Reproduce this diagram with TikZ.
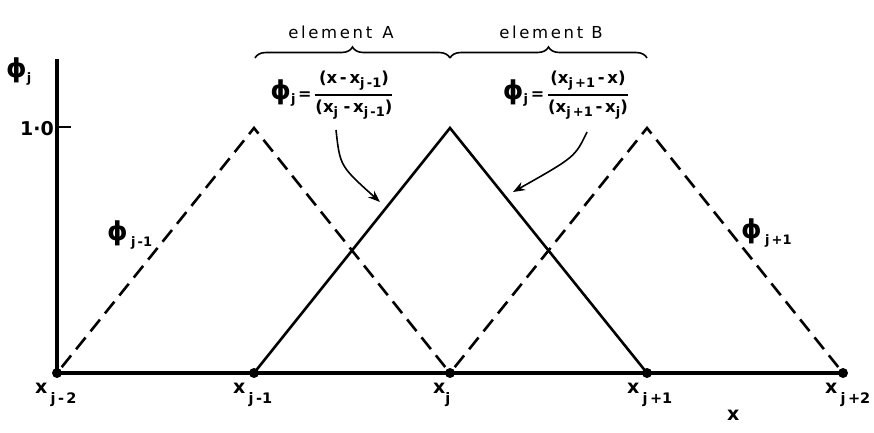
\documentclass[tikz,border=0pt]{standalone}
\usepackage{fontspec}
\usepackage{amsmath}
\setmainfont{DejaVu Sans}
\newfontfamily\spacedfont[LetterSpace=16]{DejaVu Sans}
\usetikzlibrary{decorations.pathreplacing,arrows.meta}
\newcommand\lsub[2][6pt]{\raisebox{-#1}{\fontsize{13}{15}\selectfont #2}}
\newcommand\bsub[1]{\raisebox{-10pt}{\fontsize{14.5}{16}\selectfont #1}}
\newcommand\phisym{{\fontsize{26}{30}\selectfont ϕ}}
\begin{document}
\begin{tikzpicture}[x=1pt,y=-1pt,
  solidline/.style={line width=2.6pt, line join=miter},
  dashline/.style={line width=2.6pt, dash pattern=on 15pt off 8pt, dash phase=15.5pt, line join=miter},
  axisline/.style={line width=3.2pt},
  dot/.style={circle, fill, inner sep=0pt, minimum size=10pt},
  lbl/.style={inner sep=0pt, font=\bfseries\fontsize{19}{21}\selectfont},
  elem/.style={inner sep=0pt, font=\spacedfont\fontsize{16.5}{18}\selectfont},
  bracestyle/.style={line width=1.6pt, decorate, decoration={brace, amplitude=11pt}},
  arr/.style={line width=1.6pt, -{Stealth[length=12pt,width=9pt]}},
  formula/.style={inner sep=0pt, font=\bfseries\fontsize{16}{18}\selectfont}]
\useasboundingbox (0,0) rectangle (874,432);
% points
\coordinate (c0) at (57,373);
\coordinate (c1) at (254,373);
\coordinate (c2) at (450,373);
\coordinate (c3) at (647,373);
\coordinate (c4) at (843,373);
\coordinate (t1) at (254,128);
\coordinate (t2) at (450,128);
\coordinate (t3) at (647,128);
\coordinate (axtop) at (57,59);
\coordinate (tick0) at (57,127);
\coordinate (tick1) at (71,127);
% axes
\draw[axisline] (c0) -- (axtop);
\draw[line width=2pt] (tick0) -- (tick1);
\draw[axisline] (c0) -- (c4);
% basis functions
\draw[dashline] (c0) -- (t1) -- (c2);
\draw[solidline] (c1) -- (t2) -- (c3);
\draw[dashline] (c2) -- (t3) -- (c4);
% dots
\foreach \i in {0,...,4} \node[dot] (p\i) at (c\i) {};
% bottom labels
\node[lbl, anchor=base west] (l0) at (35,393) {x\,\bsub{j\,-\,2}};
\node[lbl, anchor=base west] (l1) at (233,393) {x\,\bsub{j\,-1}};
\node[lbl, anchor=base west] (l2) at (433,393) {x\bsub{j}};
\node[lbl, anchor=base west] (l3) at (627,393) {x\,\bsub{j\,+1}};
\node[lbl, anchor=base west] (l4) at (825,393) {x\,\bsub{j\,+2}};
\node[lbl, anchor=base west] (xl) at (727,420) {x};
% axis labels
\node[lbl, anchor=base west] (phij) at (6,77) {\phisym\lsub[5pt]{j}};
\node[lbl, anchor=base east] (one) at (54,135) {1·0};
\node[lbl, anchor=base west] (phim) at (107,240) {\phisym\,\lsub[6pt]{j\,-1}};
\node[lbl, anchor=base west] (phip) at (741,238) {\phisym\,\lsub[6pt]{j\,+1}};
% braces
\coordinate (bA0) at (255,58);
\coordinate (bA1) at (450,58);
\coordinate (bB1) at (647,58);
\draw[bracestyle] (bA0) -- (bA1);
\draw[bracestyle] (bA1) -- (bB1);
\node[elem] (eA) at (341,32) {element\hspace{10pt}A};
\node[elem] (eB) at (551,32) {element\hspace{8pt}B};
% formulas
\node[formula] (fA) at (332,95) {\phisym\lsub[4pt]{j}\,=\,$\genfrac{}{}{1.3pt}{0}{\hbox{\bfseries\fontsize{16.5}{18}\selectfont (x\,-\,x\lsub[4pt]{j\,-1})}}{\hbox{\bfseries\fontsize{16.5}{18}\selectfont (x\lsub[4pt]{j}\,\,-\,x\lsub[4pt]{j\,-1})}}$};
\node[formula] (fB) at (566,95) {\phisym\lsub[4pt]{j}\,=\,$\genfrac{}{}{1.3pt}{0}{\hbox{\bfseries\fontsize{16.5}{18}\selectfont (x\lsub[4pt]{j\,+1}\,-\,x)}}{\hbox{\bfseries\fontsize{16.5}{18}\selectfont (x\lsub[4pt]{j\,+1}\,-\,x\lsub[4pt]{j})}}$};
% arrows
\coordinate (aAs) at (336,130);
\coordinate (aAe) at (380,202);
\coordinate (aBs) at (587,132);
\coordinate (aBe) at (513,192);
\draw[arr] (aAs) .. controls (340,166) .. (aAe);
\draw[arr] (aBs) .. controls (575,157) .. (aBe);
\end{tikzpicture}
\end{document}
